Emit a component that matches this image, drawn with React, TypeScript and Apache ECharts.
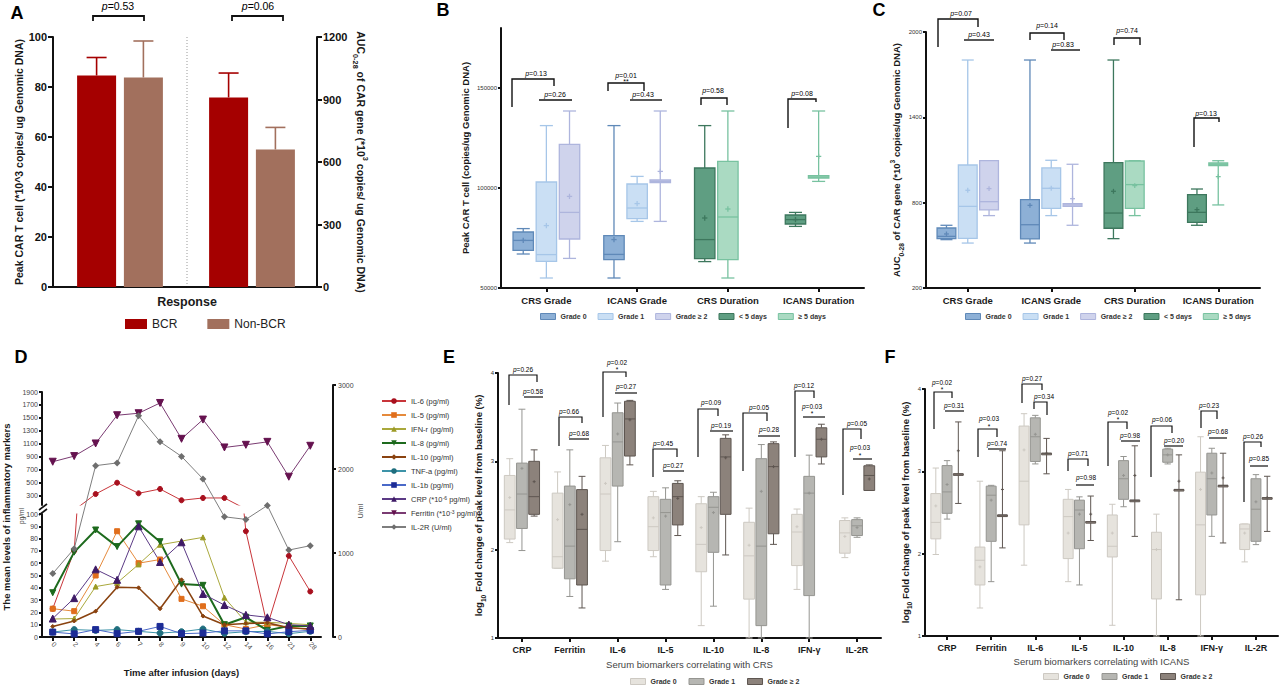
import React, { useEffect, useRef } from 'react';
import * as echarts from 'echarts';

// ================= DATA =================
// Panel A
const aLegend = ['BCR', 'Non-BCR'];
const aPeakValues = [84.6, 83.8]; // BCR, Non-BCR (*10^3 copies/ug)
const aPeakUpper = [91.8, 98.4];
const aAucValues = [910, 660]; // BCR, Non-BCR
const aAucUpper = [1027, 766];

// Panel B / C  ([min, q1, median, q3, max, mean])
const bcCategories = ['CRS Grade', 'ICANS Grade', 'CRS Duration', 'ICANS Duration'];
const bGrade0 = [[67000, 68800, 73800, 78000, 79700, 73800], [55000, 64200, 66800, 76200, 131200, 74200]];
const bGrade1 = [[55000, 63300, 66700, 103000, 131200, 81200], [83300, 84700, 90000, 102000, 105800, 92200]];
const bGrade2 = [[64800, 74500, 87800, 121800, 138500, 95800], [83300, 102700, 103300, 104000, 138500, 108300]];
const bUnder5 = [[63200, 64700, 74200, 110000, 131200, 85000], [80800, 82000, 84200, 86500, 87800, 84200]];
const bOver5 = [[55000, 64200, 85500, 113300, 138500, 89500], [103300, 105000, 105500, 106200, 138500, 115800]];

const cGrade0 = [[540, 547, 563, 622, 641, 580], [516, 545, 645, 821, 1803, 781]];
const cGrade1 = [[516, 549, 774, 1065, 1803, 887], [709, 760, 901, 1044, 1098, 901]];
const cGrade2 = [[709, 749, 807, 1095, 1095, 899], [641, 774, 784, 793, 1070, 828]];
const cUnder5 = [[547, 620, 727, 1081, 1803, 880], [641, 662, 732, 856, 896, 751]];
const cOver5 = [[709, 760, 927, 1093, 1095, 920], [784, 1060, 1070, 1079, 1095, 983]];

// Panel D
const days = ['0', '2', '4', '6', '7', '8', '9', '10', '12', '14', '16', '21', '28'];
const il6 = [23, 70, 320, 495, 331, 398, 223, 259, 259, 86, 9, 66, 37];
const il5 = [23, 21, 50, 86, 60, 63, 31, 25, 10, 6.5, 10, 8, 6];
const ifnr = [14.6, 15, 41, 44, 59, 75, 78, 81, 32, 12, 12, 11, 10];
const il8 = [36, 69, 87, 73.5, 92, 77.5, 43, 42, 10, 16, 5.4, 9, 9];
const il10 = [8.6, 13, 21, 40.5, 40, 23, 46.5, 17, 10, 11, 11.5, 7.5, 6.5];
const tnfa = [4, 6, 5.4, 6, 4.6, 3.2, 4.3, 6.5, 3, 4.3, 4.6, 2.7, 4.6];
const il1b = [4, 2.5, 6, 2.7, 4.6, 8.6, 2.7, 3.2, 5, 5, 2.5, 4.3, 5.4];
const crp = [15, 31.6, 55, 46.5, 90, 61, 77, 35, 26, 18, 16, 10, 9];
const ferritin = [820, 907, 1103, 1540, 1571, 1730, 1175, 1473, 1041, 1082, 1128, 588, 1067];
const il2r = [755, 1052, 2040, 2072, 2633, 2325, 2150, 1882, 1431, 1400, 1566, 1035, 1087];
const dLeftTicksLow = [0, 10, 20, 30, 40, 50, 60, 70, 80, 90, 100];
const dLeftTicksHigh = [300, 500, 700, 900, 1100, 1300, 1500, 1700, 1900];

// Panel E / F
const biomarkers = ['CRP', 'Ferritin', 'IL-6', 'IL-5', 'IL-10', 'IL-8', 'IFN-γ', 'IL-2R'];
const eGrade0 = [
  [2.08, 2.12, 2.45, 2.84, 3.03, 2.59], [1.79, 1.79, 1.92, 2.64, 2.88, 2.34], [1.87, 1.99, 2.63, 3.04, 3.18, 2.75],
  [1.92, 1.99, 2.26, 2.6, 2.66, 2.36], [1.14, 1.75, 2.06, 2.52, 2.6, 2.25], [1.0, 1.44, 1.93, 2.31, 2.47, 2.05],
  [1.55, 1.82, 2.2, 2.4, 2.46, 2.26], [1.91, 1.96, 2.19, 2.33, 2.36, 2.15],
];
const eGrade1 = [
  [1.99, 2.24, 2.63, 2.98, 3.59, 2.92], [1.47, 1.67, 2.04, 2.72, 3.13, 2.51], [2.09, 2.72, 3.22, 3.55, 3.66, 3.31],
  [1.55, 1.6, 2.42, 2.57, 2.7, 2.38], [1.36, 1.97, 2.48, 2.6, 2.65, 2.42], [1.0, 1.14, 2.04, 3.03, 3.19, 2.66],
  [1.0, 1.48, 2.64, 2.83, 3.07, 2.64], [2.14, 2.16, 2.27, 2.34, 2.36, 2.25],
];
const eGrade2 = [
  [2.38, 2.4, 2.6, 3.0, 3.13, 2.77], [1.34, 1.6, 2.23, 2.68, 2.83, 2.4], [2.96, 3.06, 3.48, 3.68, 3.69, 3.47],
  [2.16, 2.28, 2.6, 2.75, 2.78, 2.58], [1.94, 2.4, 3.05, 3.26, 3.3, 3.04], [2.06, 2.18, 2.94, 3.2, 3.22, 2.94],
  [2.97, 3.05, 3.25, 3.38, 3.42, 3.25], [2.67, 2.67, 2.84, 2.95, 2.96, 2.8],
];
const fGrade0 = [
  [1.99, 2.18, 2.38, 2.73, 3.04, 2.58], [1.34, 1.62, 1.92, 2.08, 2.88, 1.84], [1.86, 2.35, 2.88, 3.55, 3.7, 3.26],
  [1.66, 1.94, 2.45, 2.66, 2.78, 2.25], [1.13, 1.96, 2.09, 2.47, 2.6, 2.25], [1.0, 1.45, 2.05, 2.26, 2.48, 2.05],
  [1.0, 1.5, 2.35, 2.99, 3.42, 2.78], [1.9, 2.05, 2.3, 2.36, 2.36, 2.25],
];
const fGrade1 = [
  [2.42, 2.49, 2.75, 3.07, 3.13, 2.84], [1.66, 2.15, 2.71, 2.82, 2.83, 2.65], [3.09, 3.12, 3.42, 3.65, 3.68, 3.45],
  [1.62, 2.06, 2.53, 2.65, 2.69, 2.48], [2.57, 2.66, 2.91, 3.13, 3.18, 2.95], [3.09, 3.11, 3.2, 3.27, 3.28, 3.2],
  [2.21, 2.47, 2.91, 3.22, 3.28, 2.98], [2.11, 2.15, 2.54, 2.91, 2.96, 2.63],
];
const fGrade2 = [
  [2.61, 2.97, 2.97, 2.97, 3.6, 3.25], [2.07, 2.47, 2.47, 2.47, 3.25, 2.78], [2.97, 3.22, 3.22, 3.22, 3.4, 3.22],
  [2.16, 2.39, 2.39, 2.39, 2.7, 2.48], [2.21, 2.65, 2.65, 2.65, 3.31, 2.95], [1.44, 2.78, 2.78, 2.78, 3.2, 2.88],
  [2.13, 2.83, 2.83, 2.83, 3.22, 2.92], [2.27, 2.68, 2.68, 2.68, 2.94, 2.68],
];

// ================= ANNOTATION LAYOUT (significance brackets) =================
// [x1, x2, yTop, leftLegEnd, rightLegEnd, pValue, textX, textY, star, starY]
const aBrackets = [
  [93, 144, 16, 21, 21, '0.53', 118, 6, '', 0],
  [232, 283, 16, 21, 21, '0.06', 258, 6, '', 0],
];
const bBrackets = [
  [512, 554, 79, 107, 86, '0.13', 536, 73, '', 0],
  [539, 572, 100, 100, 100, '0.26', 555, 94, '', 0],
  [608, 644, 83, 91, 91, '0.01', 626, 75, '**', 81],
  [630, 662, 100, 100, 100, '0.43', 643, 94, '', 0],
  [701, 727, 98, 105, 105, '0.58', 713, 90, '', 0],
  [788, 816, 99, 128, 102, '0.08', 802, 93, '', 0],
];
const cBrackets = [
  [938, 978, 19, 47, 27, '0.07', 961, 13, '', 0],
  [964, 994, 40, 40, 40, '0.43', 979, 34, '', 0],
  [1030, 1064, 33, 40, 40, '0.14', 1047, 25, '', 0],
  [1051, 1080, 50, 50, 50, '0.83', 1063, 44, '', 0],
  [1114, 1140, 38, 45, 45, '0.74', 1127, 30, '', 0],
  [1194, 1219, 118, 147, 122, '0.13', 1206, 113, '', 0],
];
const eBrackets = [
  [509, 537, 375, 405, 382, '0.26', 523, 369, '', 0],
  [524, 543, 397, 397, 397, '0.58', 533, 391, '', 0],
  [559, 582, 417, 446, 423, '0.66', 569, 411, '', 0],
  [569, 589, 439, 439, 439, '0.68', 579, 433, '', 0],
  [603, 626, 372, 417, 377, '0.02', 617, 362, '*', 369],
  [615, 637, 393, 393, 393, '0.27', 626, 386, '', 0],
  [653, 677, 449, 477, 457, '0.45', 663, 443, '', 0],
  [663, 684, 471, 471, 471, '0.27', 673, 465, '', 0],
  [698, 718, 409, 457, 416, '0.09', 711, 402, '', 0],
  [710, 733, 431, 431, 431, '0.19', 721, 425, '', 0],
  [743, 767, 413, 471, 421, '0.05', 759, 407, '', 0],
  [758, 780, 436, 436, 436, '0.28', 769, 429, '', 0],
  [795, 814, 391, 457, 398, '0.12', 804, 385, '', 0],
  [803, 825, 417, 417, 417, '0.03', 812, 406, '*', 413],
  [843, 861, 429, 495, 439, '0.05', 857, 423, '', 0],
  [853, 872, 459, 459, 459, '0.03', 860, 447, '*', 455],
];
const fBrackets = [
  [934, 952, 392, 429, 398, '0.02', 942, 382, '*', 389],
  [945, 964, 411, 411, 411, '0.31', 954, 405, '', 0],
  [978, 997, 429, 457, 437, '0.03', 989, 418, '*', 426],
  [988, 1006, 449, 449, 449, '0.74', 997, 443, '', 0],
  [1022, 1042, 384, 403, 390, '0.27', 1032, 378, '', 0],
  [1034, 1047, 402, 409, 415, '0.34', 1044, 396, '', 0],
  [1068, 1088, 459, 471, 466, '0.71', 1078, 453, '', 0],
  [1076, 1094, 485, 485, 485, '0.98', 1086, 477, '', 0],
  [1108, 1127, 422, 466, 429, '0.02', 1118, 412, '*', 419],
  [1121, 1140, 441, 441, 441, '0.98', 1130, 435, '', 0],
  [1151, 1172, 426, 477, 433, '0.06', 1162, 419, '', 0],
  [1164, 1183, 446, 446, 446, '0.20', 1174, 440, '', 0],
  [1201, 1217, 411, 428, 419, '0.23', 1209, 405, '', 0],
  [1209, 1227, 438, 438, 438, '0.68', 1218, 431, '', 0],
  [1244, 1261, 442, 502, 447, '0.26', 1253, 436, '', 0],
  [1250, 1268, 466, 466, 466, '0.85', 1259, 458, '', 0],
];

// ================= STYLES =================
const FONT = "'Liberation Sans', Arial, Helvetica, sans-serif";
const BLACK = '#111';
const TXT = '#000';
const bcColors: Record<string, [string, string]> = {
  'Grade 0': ['#8DB0D6', '#5F89B8'],
  'Grade 1': ['#CADFF4', '#A6C6E8'],
  'Grade ≥ 2': ['#CFD3EC', '#AEB5DD'],
  '< 5 days': ['#5F9E82', '#3D775D'],
  '≥ 5 days': ['#AADAC2', '#78C2A0'],
};
const efColors: [string, string][] = [
  ['#E6E3DD', '#CDC9C2'],
  ['#B6B6B2', '#959591'],
  ['#8C827B', '#5E5651'],
];
const efNames = ['Grade 0 ', 'Grade 1 ', 'Grade ≥ 2 '];
const plain = (v: number) => String(v);

function boxSeries(name: string, data: number[][], cats: number[], axis: number, slot: number, fill: string, stroke: string, lw: number) {
  return {
    type: 'custom',
    name,
    xAxisIndex: axis,
    yAxisIndex: axis,
    itemStyle: { color: fill, borderColor: stroke },
    data: data.map((b, i) => [cats[i], ...b]),
    encode: { x: 0, y: [1, 2, 3, 4, 5, 6] },
    z: 3,
    renderItem: (params: any, api: any) => {
      const cat = api.value(0);
      const band = api.size([1, 0])[0];
      const Y = (i: number) => api.coord([cat, api.value(i)])[1];
      const cx = api.coord([cat, api.value(3)])[0] + slot * 0.255 * band;
      const w = 0.225 * band;
      const yMin = Y(1), yQ1 = Y(2), yMed = Y(3), yQ3 = Y(4), yMax = Y(5), yMean = Y(6);
      const cap = w * 0.32;
      const m = Math.max(w * 0.13, 1.5);
      const ls = { stroke, lineWidth: lw };
      const h = Math.max(yQ1 - yQ3, 1.6);
      return {
        type: 'group',
        children: [
          { type: 'line', shape: { x1: cx, y1: yMax, x2: cx, y2: yQ3 }, style: ls },
          { type: 'line', shape: { x1: cx, y1: yQ1, x2: cx, y2: yMin }, style: ls },
          { type: 'line', shape: { x1: cx - cap, y1: yMax, x2: cx + cap, y2: yMax }, style: ls },
          { type: 'line', shape: { x1: cx - cap, y1: yMin, x2: cx + cap, y2: yMin }, style: ls },
          { type: 'rect', shape: { x: cx - w / 2, y: yQ3, width: w, height: h }, style: { fill, stroke, lineWidth: lw } },
          { type: 'line', shape: { x1: cx - w / 2, y1: yMed, x2: cx + w / 2, y2: yMed }, style: ls },
          { type: 'line', shape: { x1: cx - m, y1: yMean, x2: cx + m, y2: yMean }, style: ls },
          { type: 'line', shape: { x1: cx, y1: yMean - m, x2: cx, y2: yMean + m }, style: ls },
        ],
      };
    },
  };
}

function errSeries(name: string, value: number, upper: number, axis: number, offset: number, color: string) {
  return {
    type: 'custom',
    name,
    xAxisIndex: axis,
    yAxisIndex: axis,
    data: [[0, value, upper]],
    encode: { x: 0, y: [1, 2] },
    z: 1,
    renderItem: (params: any, api: any) => {
      const b = api.coord([api.value(0), api.value(1)]);
      const t = api.coord([api.value(0), api.value(2)]);
      const x = b[0] + offset;
      const ls = { stroke: color, lineWidth: 1.6 };
      return {
        type: 'group',
        children: [
          { type: 'line', shape: { x1: x, y1: b[1], x2: x, y2: t[1] }, style: ls },
          { type: 'line', shape: { x1: x - 10, y1: t[1], x2: x + 10, y2: t[1] }, style: ls },
        ],
      };
    },
  };
}

// approximate glyph widths (Liberation Sans, em units)
function textWidthEm(s: string) {
  let w = 0;
  for (const ch of s) w += ch === '.' ? 0.278 : ch === '=' ? 0.584 : 0.556;
  return w;
}

function bracketGraphics(list: any[], fs: number, lw: number) {
  const out: any[] = [];
  list.forEach((b) => {
    const [x1, x2, y, l, r, p, tx, ty, star, sy] = b;
    const pts = l === y && r === y ? [[x1, y], [x2, y]] : [[x1, l], [x1, y], [x2, y], [x2, r]];
    out.push({ type: 'polyline', silent: true, shape: { points: pts }, style: { stroke: BLACK, lineWidth: lw, fill: null } });
    const rest = '=' + p;
    const total = (0.556 + textWidthEm(rest)) * fs;
    const split = tx - total / 2 + 0.556 * fs;
    out.push({
      type: 'text', silent: true, x: split, y: ty,
      style: { text: 'p', fill: TXT, fontSize: fs, fontStyle: 'italic', fontFamily: FONT, align: 'right', verticalAlign: 'middle' },
    });
    out.push({
      type: 'text', silent: true, x: split, y: ty,
      style: { text: rest, fill: TXT, fontSize: fs, fontFamily: FONT, align: 'left', verticalAlign: 'middle' },
    });
    if (star) {
      out.push({ type: 'text', silent: true, x: tx, y: sy, style: { text: star, fill: TXT, fontSize: fs, fontFamily: FONT, align: 'center', verticalAlign: 'middle' } });
    }
  });
  return out;
}

const thickLine = { show: true, lineStyle: { color: BLACK, width: 2 } };
const thickTick = (len: number) => ({ show: true, length: len, lineStyle: { color: BLACK, width: 2 } });

function letter(t: string, x: number, y: number) {
  return { type: 'text', silent: true, x, y, style: { text: t, fill: '#000', fontSize: 18, fontWeight: 'bold', fontFamily: FONT, align: 'center', verticalAlign: 'middle' } };
}

function buildOption() {
  const grids = [
    { left: 53, top: 37, width: 134, height: 250 },
    { left: 187, top: 37, width: 130, height: 250 },
    { left: 501, top: 28, width: 363, height: 260 },
    { left: 926, top: 32, width: 334, height: 256 },
    { left: 42, top: 514, width: 279, height: 123 },
    { left: 42, top: 392, width: 279, height: 113 },
    { left: 42, top: 385, width: 279, height: 252 },
    { left: 498, top: 373, width: 383, height: 265 },
    { left: 925, top: 389, width: 353, height: 247 },
  ].map((g) => ({ ...g, containLabel: false, outerBoundsMode: 'none' }));

  const catBold = (fs: number) => ({ interval: 0, fontSize: fs, fontWeight: 'bold', color: '#1a1a1a', fontFamily: FONT, margin: 7 });
  const smallLbl = { fontSize: 6, color: '#333', fontFamily: FONT, margin: 4, formatter: plain };

  const xAxis: any[] = [
    { type: 'category', gridIndex: 0, data: ['Peak'], axisLine: thickLine, axisTick: { show: false }, axisLabel: { show: false } },
    { type: 'category', gridIndex: 1, data: ['AUC'], axisLine: thickLine, axisTick: { show: false }, axisLabel: { show: false } },
    { type: 'category', gridIndex: 2, data: bcCategories, axisLine: thickLine, axisTick: { ...thickTick(4), alignWithLabel: true }, axisLabel: catBold(9.5) },
    { type: 'category', gridIndex: 3, data: bcCategories, axisLine: thickLine, axisTick: { ...thickTick(4), alignWithLabel: true }, axisLabel: catBold(9.5) },
    {
      type: 'category', gridIndex: 4, data: days, axisLine: thickLine, axisTick: { ...thickTick(4), alignWithLabel: true },
      axisLabel: { interval: 0, rotate: -45, fontSize: 7, color: '#555', fontFamily: FONT, margin: 6 },
      name: 'Time after infusion (days)', nameLocation: 'middle', nameGap: 30,
      nameTextStyle: { fontSize: 9.5, fontWeight: 'bold', color: '#1a1a1a', fontFamily: FONT },
    },
    { type: 'category', gridIndex: 5, data: days, show: false },
    { type: 'category', gridIndex: 6, data: days, show: false },
    {
      type: 'category', gridIndex: 7, data: biomarkers, axisLine: thickLine, axisTick: { ...thickTick(4), alignWithLabel: true }, axisLabel: catBold(9),
      name: 'Serum biomarkers correlating with CRS', nameLocation: 'middle', nameGap: 21,
      nameTextStyle: { fontSize: 9.5, color: '#444', fontFamily: FONT },
    },
    {
      type: 'category', gridIndex: 8, data: biomarkers, axisLine: thickLine, axisTick: { ...thickTick(4), alignWithLabel: true }, axisLabel: catBold(9),
      name: 'Serum biomarkers correlating with ICANS', nameLocation: 'middle', nameGap: 20,
      nameTextStyle: { fontSize: 9.5, color: '#444', fontFamily: FONT },
    },
  ];

  const subRich = (fs: number) => ({
    sub: { fontSize: fs * 0.7, fontWeight: 'bold', fontFamily: FONT, color: '#1a1a1a', verticalAlign: 'bottom', padding: [0, 0, -3, 0] },
    sup: { fontSize: fs * 0.7, fontWeight: 'bold', fontFamily: FONT, color: '#1a1a1a', verticalAlign: 'top', padding: [-3, 0, 0, 0] },
  });

  const yAxis: any[] = [
    {
      type: 'value', gridIndex: 0, min: 0, max: 100, interval: 20, axisLine: thickLine, axisTick: thickTick(5), splitLine: { show: false },
      axisLabel: { fontSize: 11, fontWeight: 'bold', color: BLACK, fontFamily: FONT, margin: 6, formatter: plain },
      name: 'Peak CAR T cell (*10^3 copies/ ug Genomic DNA)', nameLocation: 'middle', nameRotate: 90, nameGap: 28,
      nameTextStyle: { fontSize: 10.5, fontWeight: 'bold', color: '#1a1a1a', fontFamily: FONT },
    },
    {
      type: 'value', gridIndex: 1, position: 'right', min: 0, max: 1200, interval: 300, axisLine: thickLine, axisTick: thickTick(5), splitLine: { show: false },
      axisLabel: { fontSize: 11, fontWeight: 'bold', color: BLACK, fontFamily: FONT, margin: 6, formatter: plain },
      name: 'AUC{sub|0-28} of CAR gene (*10{sup|3} copies/ ug Genomic DNA)', nameLocation: 'middle', nameRotate: -90, nameGap: 38,
      nameTextStyle: { fontSize: 10.5, fontWeight: 'bold', color: '#1a1a1a', fontFamily: FONT, rich: subRich(10.5) },
    },
    {
      type: 'value', gridIndex: 2, min: 50000, max: 180000, axisLine: thickLine, splitLine: { show: false },
      axisTick: { ...thickTick(3), customValues: [50000, 100000, 150000] },
      axisLabel: { ...smallLbl, customValues: [50000, 100000, 150000] },
      name: 'Peak CAR T cell (copies/ug Genomic DNA)', nameLocation: 'middle', nameRotate: 90, nameGap: 31,
      nameTextStyle: { fontSize: 9.5, fontWeight: 'bold', color: '#1a1a1a', fontFamily: FONT },
    },
    {
      type: 'value', gridIndex: 3, min: 200, max: 2000, axisLine: thickLine, splitLine: { show: false },
      axisTick: { ...thickTick(3), customValues: [200, 800, 1400, 2000] },
      axisLabel: { ...smallLbl, customValues: [200, 800, 1400, 2000] },
      name: 'AUC{sub|0-28} of CAR gene (*10{sup|3} copies/ug Genomic DNA)', nameLocation: 'middle', nameRotate: 90, nameGap: 21,
      nameTextStyle: { fontSize: 9.5, fontWeight: 'bold', color: '#1a1a1a', fontFamily: FONT, rich: subRich(9.5) },
    },
    {
      type: 'value', gridIndex: 4, min: 0, max: 100, axisLine: thickLine, splitLine: { show: false },
      axisTick: { ...thickTick(3), customValues: dLeftTicksLow },
      axisLabel: { fontSize: 7, color: '#444', fontFamily: FONT, margin: 4, customValues: dLeftTicksLow, formatter: plain },
    },
    {
      type: 'value', gridIndex: 5, min: 150, max: 1900, axisLine: thickLine, splitLine: { show: false },
      axisTick: { ...thickTick(3), customValues: dLeftTicksHigh },
      axisLabel: { fontSize: 7, color: '#444', fontFamily: FONT, margin: 4, customValues: dLeftTicksHigh, formatter: plain },
    },
    {
      type: 'value', gridIndex: 6, position: 'right', offset: 12, min: 0, max: 3000, interval: 1000, axisLine: thickLine, splitLine: { show: false },
      axisTick: thickTick(3), axisLabel: { fontSize: 7, color: '#444', fontFamily: FONT, margin: 5, formatter: plain },
      name: 'U/ml', nameLocation: 'middle', nameRotate: 90, nameGap: 24, nameTextStyle: { fontSize: 7, color: '#444', fontFamily: FONT },
    },
    {
      type: 'value', gridIndex: 7, min: 1, max: 4, interval: 1, axisLine: thickLine, splitLine: { show: false },
      axisTick: thickTick(3), axisLabel: smallLbl,
      name: 'log{sub|10} Fold change of peak level from baseline (%)', nameLocation: 'middle', nameRotate: 90, nameGap: 12,
      nameTextStyle: { fontSize: 9.5, fontWeight: 'bold', color: '#1a1a1a', fontFamily: FONT, rich: subRich(9.5) },
    },
    {
      type: 'value', gridIndex: 8, min: 1, max: 4, interval: 1, axisLine: thickLine, splitLine: { show: false },
      axisTick: thickTick(3), axisLabel: smallLbl,
      name: 'log{sub|10} Fold change of peak level from baseline (%)', nameLocation: 'middle', nameRotate: 90, nameGap: 15,
      nameTextStyle: { fontSize: 9.5, fontWeight: 'bold', color: '#1a1a1a', fontFamily: FONT, rich: subRich(9.5) },
    },
  ];

  const series: any[] = [];
  // ---- Panel A
  const aColors = ['#A50000', '#A2705D'];
  aLegend.forEach((name, i) => {
    series.push({ type: 'bar', name, xAxisIndex: 0, yAxisIndex: 0, data: [aPeakValues[i]], barWidth: 39, barGap: '20%', itemStyle: { color: aColors[i] }, z: 2 });
  });
  aLegend.forEach((name, i) => {
    series.push({ type: 'bar', name, xAxisIndex: 1, yAxisIndex: 1, data: [aAucValues[i]], barWidth: 39, barGap: '20%', itemStyle: { color: aColors[i] }, z: 2 });
  });
  aLegend.forEach((name, i) => {
    const off = i === 0 ? -23.4 : 23.4;
    series.push(errSeries('err-peak-' + name, aPeakValues[i], aPeakUpper[i], 0, off, aColors[i]));
    series.push(errSeries('err-auc-' + name, aAucValues[i], aAucUpper[i], 1, off, aColors[i]));
  });

  // ---- Panels B, C
  const bcSets = [
    [2, bGrade0, bGrade1, bGrade2, bUnder5, bOver5],
    [3, cGrade0, cGrade1, cGrade2, cUnder5, cOver5],
  ] as any[];
  bcSets.forEach(([ax, g0, g1, g2, u5, o5]) => {
    const spec = [
      ['Grade 0', g0, [0, 1], -1],
      ['Grade 1', g1, [0, 1], 0],
      ['Grade ≥ 2', g2, [0, 1], 1],
      ['< 5 days', u5, [2, 3], -1],
      ['≥ 5 days', o5, [2, 3], 0],
    ] as any[];
    spec.forEach(([name, data, cats, slot]) => {
      const [fill, stroke] = bcColors[name];
      series.push(boxSeries(name, data, cats, ax, slot, fill, stroke, 1.3));
    });
  });

  // ---- Panel D
  const dSpec = [
    { name: 'IL-6 (pg/ml)', data: il6, color: '#C8353A', mColor: '#A8101E', symbol: 'circle', size: 5, lw: 1 },
    { name: 'IL-5 (pg/ml)', data: il5, color: '#E58A3C', mColor: '#E06E1C', symbol: 'rect', size: 5, lw: 1 },
    { name: 'IFN-r (pg/ml)', data: ifnr, color: '#A9A83C', mColor: '#9C9A25', symbol: 'triangle', size: 5, lw: 1 },
    { name: 'IL-8 (pg/ml)', data: il8, color: '#1D6A1D', mColor: '#1D6A1D', symbol: 'triangle', rot: 180, size: 6, lw: 2 },
    { name: 'IL-10 (pg/ml)', data: il10, color: '#8A4310', mColor: '#8A4310', symbol: 'diamond', size: 4, lw: 1.6 },
    { name: 'TNF-a (pg/ml)', data: tnfa, color: '#3D93A8', mColor: '#1F6E7E', symbol: 'circle', size: 6, lw: 1 },
    { name: 'IL-1b (pg/ml)', data: il1b, color: '#4A69C8', mColor: '#1C2C96', symbol: 'rect', size: 6, lw: 1 },
    { name: 'CRP (*10^-6 pg/ml)', data: crp, color: '#5B3A85', mColor: '#3E1A66', symbol: 'triangle', size: 7, lw: 1 },
    { name: 'Ferritin (*10^-3 pg/ml)', data: ferritin, color: '#7A3B72', mColor: '#65124F', symbol: 'triangle', rot: 180, size: 7, lw: 1 },
  ];
  dSpec.forEach((s) => {
    const base = {
      type: 'line', name: s.name, data: s.data, symbol: s.symbol, symbolSize: s.size, symbolRotate: (s as any).rot || 0,
      clip: true, lineStyle: { color: s.color, width: s.lw }, itemStyle: { color: s.mColor, borderColor: s.mColor }, z: 3,
    };
    if (Math.min(...s.data) <= 100) series.push({ ...base, xAxisIndex: 4, yAxisIndex: 4 });
    if (Math.max(...s.data) >= 150) series.push({ ...base, xAxisIndex: 5, yAxisIndex: 5 });
  });
  series.push({
    type: 'line', name: 'IL-2R (U/ml)', data: il2r, xAxisIndex: 6, yAxisIndex: 6, symbol: 'diamond', symbolSize: 7,
    lineStyle: { color: '#7E7E7E', width: 1 }, itemStyle: { color: '#6E6E6E' }, z: 3,
  });

  // ---- Panels E, F
  [[7, eGrade0, eGrade1, eGrade2], [8, fGrade0, fGrade1, fGrade2]].forEach(([ax, g0, g1, g2]: any) => {
    [g0, g1, g2].forEach((d: number[][], k: number) => {
      series.push(boxSeries(efNames[k], d, d.map((_, i) => i), ax, k - 1, efColors[k][0], efColors[k][1], 1));
    });
  });

  // ---- Legends
  const bcLegendData = Object.keys(bcColors).map((n) => ({ name: n, icon: 'rect', itemStyle: { color: bcColors[n][0], borderColor: bcColors[n][1], borderWidth: 1 } }));
  const efLegendData = efNames.map((n, k) => ({ name: n, icon: 'rect', itemStyle: { color: efColors[k][0], borderColor: efColors[k][1], borderWidth: 1 } }));
  const smallLegendText = { fontSize: 7, fontWeight: 'bold', color: '#333', fontFamily: FONT };
  const legend: any[] = [
    {
      left: 125, top: 318, padding: 0, icon: 'rect', itemWidth: 22, itemHeight: 10, itemGap: 30, selectedMode: false,
      data: aLegend.map((n, i) => ({ name: n, itemStyle: { color: aColors[i] } })),
      textStyle: { fontSize: 12, color: '#222', fontFamily: FONT },
    },
    { left: 540, top: 313, padding: 0, itemWidth: 15, itemHeight: 6, itemGap: 11, selectedMode: false, data: bcLegendData, textStyle: smallLegendText },
    { left: 965, top: 313, padding: 0, itemWidth: 15, itemHeight: 6, itemGap: 11, selectedMode: false, data: bcLegendData, textStyle: smallLegendText },
    {
      left: 381, top: 397, padding: 0, orient: 'vertical', itemWidth: 24, itemHeight: 7, itemGap: 6, selectedMode: false,
      data: [...dSpec.map((s) => s.name), 'IL-2R (U/ml)'],
      formatter: (n: string) => n.replace(/\^(-\d)/, '{sup|$1}'),
      textStyle: { fontSize: 7.5, color: '#333', fontFamily: FONT, rich: { sup: { fontSize: 5, color: '#333', fontFamily: FONT, verticalAlign: 'top' } } },
    },
    { left: 630, top: 678, padding: 0, itemWidth: 15, itemHeight: 6, itemGap: 10, selectedMode: false, data: efLegendData, textStyle: smallLegendText },
    { left: 1043, top: 673, padding: 0, itemWidth: 15, itemHeight: 6, itemGap: 10, selectedMode: false, data: efLegendData, textStyle: smallLegendText },
  ];

  // ---- Graphic annotations
  const graphic: any[] = [
    letter('A', 17, 13), letter('B', 443, 10), letter('C', 879, 10),
    letter('D', 21, 357), letter('E', 449, 357), letter('F', 890, 357),
    { type: 'line', silent: true, shape: { x1: 187, y1: 37, x2: 187, y2: 286 }, style: { stroke: '#999', lineWidth: 1, lineDash: [1, 2] } },
    { type: 'text', silent: true, x: 187, y: 302, style: { text: 'Response', fill: '#1a1a1a', fontSize: 12.5, fontWeight: 'bold', fontFamily: FONT, align: 'center', verticalAlign: 'middle' } },
    { type: 'text', silent: true, x: 6, y: 517, rotation: Math.PI / 2, style: { text: 'The mean levels of inflammatory markers', fill: '#1a1a1a', fontSize: 9.5, fontWeight: 'bold', fontFamily: FONT, align: 'center', verticalAlign: 'middle' } },
    { type: 'text', silent: true, x: 21, y: 516, rotation: Math.PI / 2, style: { text: 'pg/ml', fill: '#444', fontSize: 6.5, fontFamily: FONT, align: 'center', verticalAlign: 'middle' } },
    { type: 'line', silent: true, shape: { x1: 39, y1: 510, x2: 47, y2: 504 }, style: { stroke: BLACK, lineWidth: 1.6 } },
    { type: 'line', silent: true, shape: { x1: 39, y1: 515, x2: 47, y2: 509 }, style: { stroke: BLACK, lineWidth: 1.6 } },
    ...bracketGraphics(aBrackets, 10.5, 1.8),
    ...bracketGraphics(bBrackets, 7, 1.4),
    ...bracketGraphics(cBrackets, 7, 1.4),
    ...bracketGraphics(eBrackets, 6.5, 1.2),
    ...bracketGraphics(fBrackets, 6.5, 1.2),
  ];

  return {
    animation: false,
    backgroundColor: '#fff',
    textStyle: { fontFamily: FONT },
    grid: grids,
    xAxis,
    yAxis,
    series,
    legend,
    graphic,
  };
}

export default function App() {
  const ref = useRef<HTMLDivElement>(null);
  useEffect(() => {
    document.body.style.margin = '0';
    const chart = echarts.init(ref.current as HTMLDivElement, null, { renderer: 'svg' });
    chart.setOption(buildOption() as any);
    return () => chart.dispose();
  }, []);
  return <div ref={ref} style={{ position: 'fixed', left: 0, top: 0, width: 1280, height: 687, background: '#fff' }} />;
}
